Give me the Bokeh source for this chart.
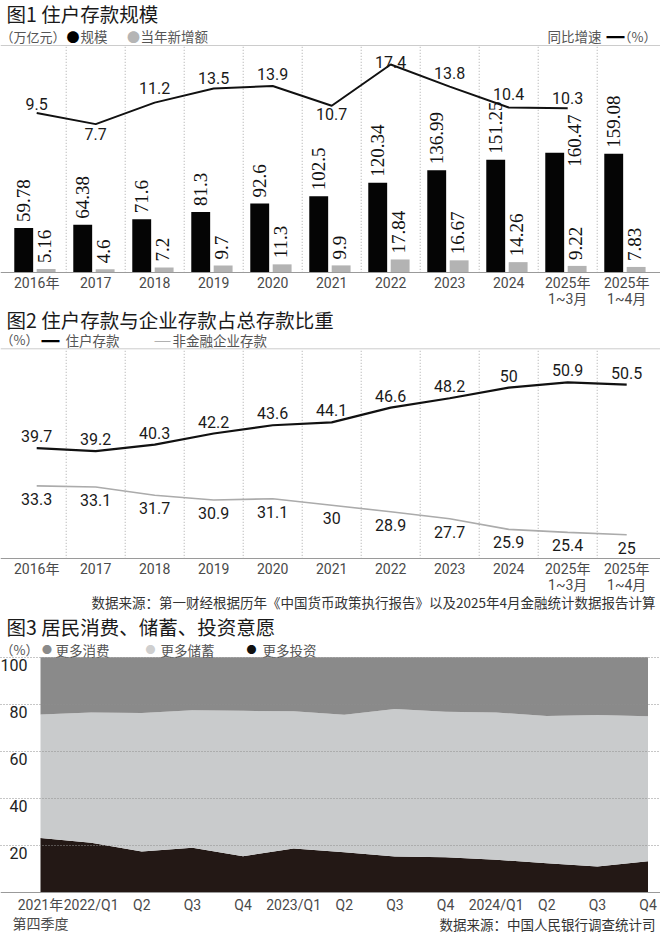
from math import pi
from bokeh.plotting import figure
from bokeh.models import ColumnDataSource, Range1d, FixedTicker, Span, Label, LinearAxis
from bokeh.transform import dodge
from bokeh.layouts import column
from bokeh.core.properties import value
from bokeh.embed import file_html
from bokeh.resources import INLINE

# ---------------- data ----------------
periods = ["2016年", "2017", "2018", "2019", "2020", "2021", "2022", "2023", "2024",
           "2025年\n1~3月", "2025年\n1~4月"]
deposit_scale = [59.78, 64.38, 71.6, 81.3, 92.6, 102.5, 120.34, 136.99, 151.25, 160.47, 159.08]
deposit_new = [5.16, 4.6, 7.2, 9.7, 11.3, 9.9, 17.84, 16.67, 14.26, 9.22, 7.83]
yoy_growth = [9.5, 7.7, 11.2, 13.5, 13.9, 10.7, 17.4, 13.8, 10.4, 10.3]

household_share = [39.7, 39.2, 40.3, 42.2, 43.6, 44.1, 46.6, 48.2, 50, 50.9, 50.5]
enterprise_share = [33.3, 33.1, 31.7, 30.9, 31.1, 30, 28.9, 27.7, 25.9, 25.4, 25]

quarters = ["2021年\n第四季度", "2022/Q1", "Q2", "Q3", "Q4", "2023/Q1", "Q2", "Q3", "Q4",
            "2024/Q1", "Q2", "Q3", "Q4"]
more_consumption = [24.4, 23.5, 23.7, 22.6, 22.8, 23.0, 24.5, 22.0, 23.2, 23.5, 25.0, 24.6, 25.1]
more_investment = [23.1, 21.0, 17.3, 18.9, 15.3, 18.6, 17.0, 15.2, 14.9, 13.8, 12.3, 10.9, 13.2]
more_saving = [52.5, 55.5, 59.0, 58.5, 61.9, 58.4, 58.5, 62.8, 61.9, 62.7, 62.7, 64.5, 61.7]

# ---------------- label placement (styles, pixels) ----------------
scale_lbl_dx = [0, 0, 0, 0, 0, 0, 0, 0, 0, 20, 0]
scale_lbl_dy = [-6, -6, -6, -6, -6, -6, -6, -6, -6, 14, -6]
growth_lbl_dy = [-9, 10, -15, -11, -12, 8, -3, -14, -14, -10]

CJK = "Noto Sans CJK SC"
NUM = "Roboto"
NARROW = "Liberation Sans Narrow"
AXIS_FONT = "Roboto, Noto Sans CJK SC"
W = 660


def fmt(v):
    return f"{v:g}"


def ext_range(lo, hi, area_px, below_px, above_px):
    """Range whose [lo, hi] part occupies area_px pixels, with extra pixels around it."""
    k = (hi - lo) / area_px
    return Range1d(lo - below_px * k, hi + above_px * k)


def add_label(p, text, x, y, size, color="#555555", align="left", font=CJK):
    p.add_layout(Label(x=x, y=y, x_units="screen", y_units="screen", text=text,
                       text_font=font, text_font_size=f"{size}px", text_color=color,
                       text_align=align, text_baseline="middle"))


def base_fig(height, x_range, y_range):
    p = figure(width=W, height=height, x_range=x_range, y_range=y_range, min_border=0,
               toolbar_location=None, output_backend="svg", y_axis_location=None)
    p.outline_line_color = None
    p.background_fill_color = "white"
    p.border_fill_color = "white"
    p.xgrid.visible = False
    p.ygrid.visible = False
    return p


def style_xaxis(p, size, fixed, standoff, line_height):
    ax = p.xaxis[0]
    ax.fixed_location = fixed
    ax.axis_line_color = "#9a9a9a"
    ax.axis_line_width = 1
    ax.major_tick_line_color = None
    ax.minor_tick_line_color = None
    ax.major_label_text_font = AXIS_FONT
    ax.major_label_text_font_size = f"{size}px"
    ax.major_label_text_color = "#4a4a4a"
    ax.major_label_standoff = standoff
    ax.major_label_text_line_height = line_height


n = len(periods)
centers = [i + 0.5 for i in range(n)]
bounds = list(range(1, n))
cat_x_range = lambda: ext_range(0, n, 649, 6.7, 4.3)

# ---------------- figure 1 ----------------
BAR_MAX = 304
H1 = 306
p1 = base_fig(H1, cat_x_range(), ext_range(0, BAR_MAX, 227.3, H1 - 272.3, 45))
p1.extra_y_ranges = {"rate": ext_range(-16.5, 20.5, 227.3, H1 - 272.3, 45)}
style_xaxis(p1, 14, 0, -4, 1.0)
p1.xaxis.ticker = FixedTicker(ticks=centers)
p1.xaxis.major_label_overrides = {c: t for c, t in zip(centers, periods)}

p1.segment(x0=bounds, y0=0, x1=bounds, y1=BAR_MAX, line_color="#aaaaaa", line_width=1,
           line_dash="1 2")
p1.add_layout(Span(location=BAR_MAX, dimension="width", line_color="#cccccc", line_width=1))

src1 = ColumnDataSource(dict(x=centers, scale=deposit_scale, new=deposit_new,
                             scale_txt=[fmt(v) for v in deposit_scale],
                             new_txt=[fmt(v) for v in deposit_new],
                             sdx=scale_lbl_dx, sdy=scale_lbl_dy))
p1.vbar(x=dodge("x", -0.22), top="scale", width=0.32, source=src1,
        fill_color="#050505", line_color=None)
p1.vbar(x=dodge("x", 0.16), top="new", width=0.32, source=src1,
        fill_color="#b3b3b3", line_color=None)
p1.text(x=dodge("x", -0.22), y="scale", text="scale_txt", source=src1,
        angle=pi / 2, x_offset="sdx", y_offset="sdy", text_align="left", text_baseline="middle",
        text_font=value(NARROW), text_font_size="19px", text_color="#111111")
p1.text(x=dodge("x", 0.13), y="new", text="new_txt", source=src1,
        angle=pi / 2, y_offset=-6, text_align="left", text_baseline="middle",
        text_font=value(NARROW), text_font_size="19px", text_color="#111111")

src1l = ColumnDataSource(dict(x=centers[:len(yoy_growth)], g=yoy_growth,
                              txt=[fmt(v) for v in yoy_growth], dy=growth_lbl_dy))
p1.line("x", "g", source=src1l, y_range_name="rate", line_color="#111111", line_width=2)
p1.text("x", "g", text="txt", source=src1l, y_range_name="rate", y_offset="dy",
        text_align="center", text_baseline="middle", text_font=value(NUM),
        text_font_size="16px", text_color="#1a1a1a")

B1 = H1
add_label(p1, "图1 住户存款规模", 6, B1 - 12.5, 19.5, color="#1a1a1a")
add_label(p1, "（万亿元）", 0, B1 - 35.5, 13)
add_label(p1, "●", 72.5, B1 - 35.5, 13, color="#000000", align="center")
add_label(p1, "规模", 80, B1 - 35.5, 13.5)
add_label(p1, "●", 133, B1 - 35.5, 13, color="#b5b5b5", align="center")
add_label(p1, "当年新增额", 140, B1 - 35.5, 13.5)
add_label(p1, "同比增速", 601, B1 - 35.5, 13.5, align="right")
add_label(p1, "━", 615, B1 - 35.5, 18, color="#000000", align="center")
add_label(p1, "（%）", 656, B1 - 35.5, 13, align="right")

# ---------------- figure 2 ----------------
SH_LO, SH_HI = 20.9, 56.6
B2 = 612
H2 = B2 - H1
p2 = base_fig(H2, cat_x_range(), ext_range(SH_LO, SH_HI, 210, B2 - 558.3, 348.3 - H1))
style_xaxis(p2, 14, SH_LO, -4, 1.0)
p2.xaxis.ticker = FixedTicker(ticks=centers)
p2.xaxis.major_label_overrides = {c: t for c, t in zip(centers, periods)}
p2.segment(x0=bounds, y0=SH_LO, x1=bounds, y1=SH_HI, line_color="#aaaaaa", line_width=1,
           line_dash="1 2")
p2.add_layout(Span(location=SH_HI, dimension="width", line_color="#cccccc", line_width=1))

src2 = ColumnDataSource(dict(x=centers, hh=household_share, ent=enterprise_share,
                             hh_txt=[fmt(v) for v in household_share],
                             ent_txt=[fmt(v) for v in enterprise_share]))
p2.line("x", "hh", source=src2, line_color="#111111", line_width=2.2)
p2.line("x", "ent", source=src2, line_color="#ababab", line_width=1.6)
p2.text("x", "hh", text="hh_txt", source=src2, y_offset=-12, text_align="center",
        text_baseline="middle", text_font=value(NUM), text_font_size="16px", text_color="#1a1a1a")
p2.text("x", "ent", text="ent_txt", source=src2, y_offset=13, text_align="center",
        text_baseline="middle", text_font=value(NUM), text_font_size="16px", text_color="#1a1a1a")

add_label(p2, "图2 住户存款与企业存款占总存款比重", 6, B2 - 319, 19.5, color="#1a1a1a")
add_label(p2, "（%）", 0, B2 - 339, 13)
add_label(p2, "━", 50, B2 - 339, 18, color="#000000", align="center")
add_label(p2, "住户存款", 65, B2 - 339, 13.5)
add_label(p2, "─", 162, B2 - 339, 16, color="#a0a0a0", align="center")
add_label(p2, "非金融企业存款", 172, B2 - 339, 13.5)
add_label(p2, "数据来源：第一财经根据历年《中国货币政策执行报告》以及2025年4月金融统计数据报告计算",
          655, B2 - 601.5, 13.5, color="#333333", align="right")

# ---------------- figure 3 ----------------
x_idx = list(range(len(quarters)))
p3 = base_fig(324, ext_range(0, x_idx[-1], 607.5, 40, 12.5), ext_range(0, 100, 235, 44.3, 44.7))
yr = p3.y_range
shift = 8 * 100 / 235  # tick labels sit just below their grid lines
p3.extra_y_ranges = {"lbl": Range1d(yr.start + shift, yr.end + shift)}
style_xaxis(p3, 14, 0, -1, 1.2)
p3.xaxis.ticker = FixedTicker(ticks=x_idx)
p3.xaxis.major_label_overrides = {i: q for i, q in zip(x_idx, quarters)}

src3 = ColumnDataSource(dict(x=x_idx, inv=more_investment, sav=more_saving, con=more_consumption))
p3.varea_stack(["inv", "sav", "con"], x="x", color=["#231815", "#c9cbcc", "#8a8a8a"], source=src3)

yticks = FixedTicker(ticks=[20, 40, 60, 80, 100])
ya = LinearAxis(y_range_name="lbl", ticker=yticks, fixed_location=0)
ya.axis_line_color = None
ya.major_tick_line_color = None
ya.minor_tick_line_color = None
ya.major_label_standoff = 7
ya.major_label_text_font = NUM
ya.major_label_text_font_size = "16px"
ya.major_label_text_color = "#222222"
p3.add_layout(ya, "left")
p3.ygrid.visible = True
p3.ygrid.ticker = yticks
p3.ygrid.grid_line_color = "#8f8f8f"
p3.ygrid.grid_line_dash = "1 2"
p3.ygrid.level = "overlay"

B3 = 936
add_label(p3, "图3 居民消费、储蓄、投资意愿", 6, B3 - 626, 19.5, color="#1a1a1a")
add_label(p3, "（%）", 0, B3 - 649, 13)
add_label(p3, "●", 46.5, B3 - 649, 10, color="#8a8a8a", align="center")
add_label(p3, "更多消费", 55, B3 - 649, 13.5)
add_label(p3, "●", 150, B3 - 649, 10, color="#cfcfcf", align="center")
add_label(p3, "更多储蓄", 160, B3 - 649, 13.5)
add_label(p3, "●", 251, B3 - 649, 10, color="#111111", align="center")
add_label(p3, "更多投资", 262, B3 - 649, 13.5)
add_label(p3, "数据来源：中国人民银行调查统计司", 655, B3 - 923, 13.5, color="#333333",
          align="right")

layout = column(p1, p2, p3, spacing=0)
open("out.html", "w").write(file_html(layout, INLINE))
